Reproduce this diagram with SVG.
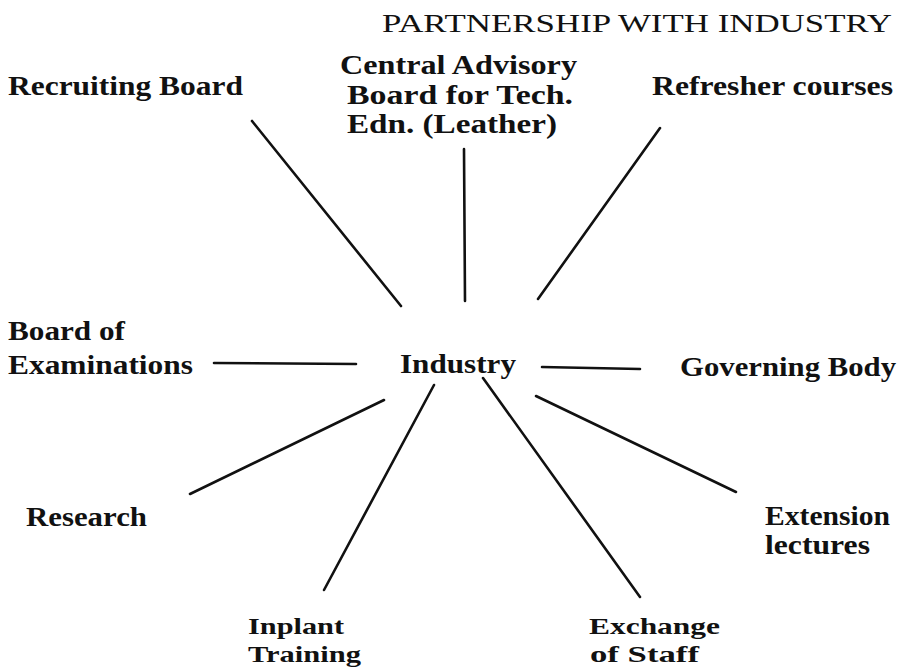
<svg xmlns="http://www.w3.org/2000/svg" width="905" height="670" viewBox="0 0 905 670">
<style>
text{font-family:"Liberation Serif","DejaVu Serif",serif;font-size:27px;font-weight:bold;fill:#111}
.title{font-weight:normal;font-size:25px}
.sm{font-size:23px}
.conn line{stroke:#111;stroke-width:2.6;stroke-linecap:round}
</style>
<rect width="905" height="670" fill="#fff"/>
<text class="title" x="382" y="32" textLength="510" lengthAdjust="spacingAndGlyphs">PARTNERSHIP WITH INDUSTRY</text>
<g class="conn" id="connectors">
<line x1="252" y1="121" x2="401" y2="306"/>
<line x1="464" y1="149" x2="465" y2="301"/>
<line x1="660" y1="128" x2="538" y2="299"/>
<line x1="214" y1="363" x2="356" y2="364"/>
<line x1="542" y1="367" x2="640" y2="369"/>
<line x1="190" y1="494" x2="384" y2="400"/>
<line x1="324" y1="590" x2="434" y2="385"/>
<line x1="483" y1="378" x2="640" y2="597"/>
<line x1="536" y1="396" x2="736" y2="492"/>
</g>
<g id="industry"><text x="400" y="373" textLength="116" lengthAdjust="spacingAndGlyphs">Industry</text></g>
<g id="recruiting"><text x="8" y="95" textLength="235" lengthAdjust="spacingAndGlyphs">Recruiting Board</text></g>
<g id="central">
<text x="340" y="74" textLength="237" lengthAdjust="spacingAndGlyphs">Central Advisory</text>
<text x="347" y="104" textLength="226" lengthAdjust="spacingAndGlyphs">Board for Tech.</text>
<text x="347" y="133" textLength="210" lengthAdjust="spacingAndGlyphs">Edn. (Leather)</text>
</g>
<g id="refresher"><text x="652" y="95" textLength="241" lengthAdjust="spacingAndGlyphs">Refresher courses</text></g>
<g id="examinations">
<text x="8" y="340" textLength="117" lengthAdjust="spacingAndGlyphs">Board of</text>
<text x="8" y="374" textLength="185" lengthAdjust="spacingAndGlyphs">Examinations</text>
</g>
<g id="governing"><text x="680" y="376" textLength="216" lengthAdjust="spacingAndGlyphs">Governing Body</text></g>
<g id="research"><text x="26" y="526" textLength="121" lengthAdjust="spacingAndGlyphs">Research</text></g>
<g id="extension">
<text x="765" y="525" textLength="125" lengthAdjust="spacingAndGlyphs">Extension</text>
<text x="765" y="554" textLength="105" lengthAdjust="spacingAndGlyphs">lectures</text>
</g>
<g id="inplant">
<text class="sm" x="248" y="634" textLength="96" lengthAdjust="spacingAndGlyphs">Inplant</text>
<text class="sm" x="248" y="662" textLength="113" lengthAdjust="spacingAndGlyphs">Training</text>
</g>
<g id="exchange">
<text class="sm" x="589" y="634" textLength="131" lengthAdjust="spacingAndGlyphs">Exchange</text>
<text class="sm" x="590" y="662" textLength="109" lengthAdjust="spacingAndGlyphs">of Staff</text>
</g>
</svg>
